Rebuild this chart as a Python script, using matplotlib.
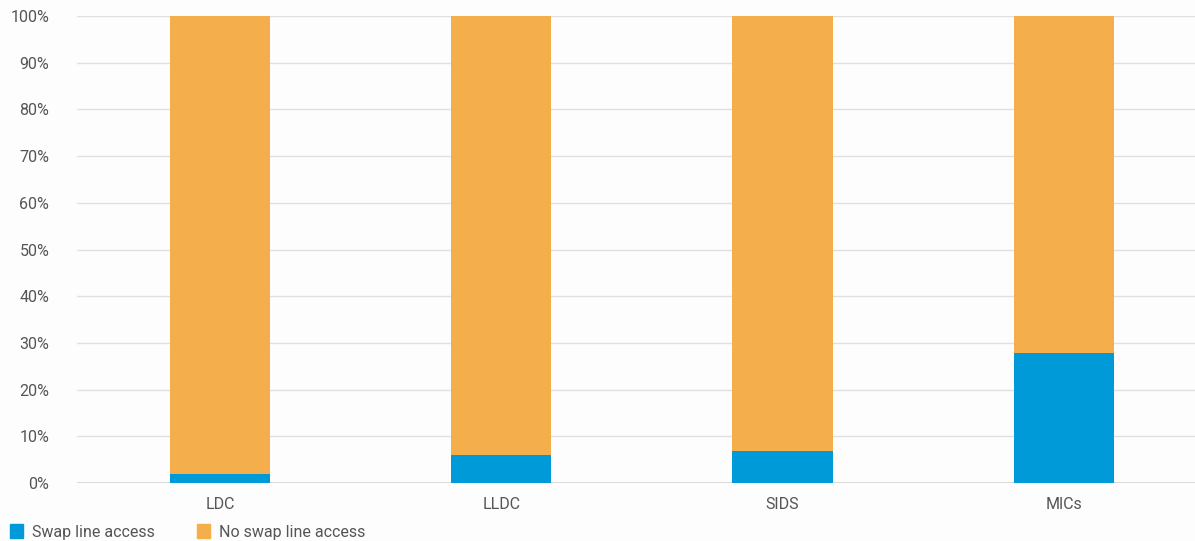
import matplotlib
matplotlib.use("Agg")
import matplotlib.pyplot as plt
from matplotlib.patches import Rectangle

categories = ["LDC", "LLDC", "SIDS", "MICs"]
swap_access = [2.0, 6.1, 6.9, 27.9]
no_swap_access = [100 - v for v in swap_access]
series_names = ["Swap line access", "No swap line access"]
colors = ["#009ad8", "#f5ae4c"]
yticks = list(range(0, 101, 10))

plt.rcParams['font.family'] = ['Roboto', 'DejaVu Sans']
W, H = 1195, 541
fig = plt.figure(figsize=(W / 100, H / 100), dpi=100, facecolor="#fdfdfd")
ax = fig.add_axes([77 / W, (H - 483) / H, (W - 77) / W, (483 - 16) / H])
ax.set_facecolor("#fdfdfd")

x = list(range(len(categories)))
ax.bar(x, swap_access, width=0.356, color=colors[0], zorder=3, label=series_names[0])
ax.bar(x, no_swap_access, bottom=swap_access, width=0.356, color=colors[1], zorder=3, label=series_names[1])

ax.set_xlim(-0.508, 3.466)
ax.set_ylim(0, 100)
ax.set_yticks(yticks)
ax.set_yticklabels([f"{t}%" for t in yticks])
ax.set_xticks(x)
ax.set_xticklabels(categories)
ax.grid(axis="y", color="#e0e0e0", linewidth=1, zorder=0)
ax.set_axisbelow(True)
for s in ax.spines.values():
    s.set_visible(False)
ax.axhline(0, color="#d5d5d5", linewidth=1.2, zorder=2)
ax.tick_params(axis="y", length=0, labelsize=11.5, labelcolor="#555555", pad=20)
ax.tick_params(axis="x", length=0, labelsize=11.5, labelcolor="#555555", pad=10)
for lbl in ax.get_yticklabels():
    lbl.set_horizontalalignment("right")

# legend
legend_items = [(10, series_names[0], colors[0]), (197, series_names[1], colors[1])]
for lx, name, c in legend_items:
    fig.patches.append(Rectangle((lx / W, (H - 538) / H), 13 / W, 14 / H,
                                 transform=fig.transFigure, color=c, figure=fig))
    fig.text((lx + 22) / W, (H - 533) / H, name, fontsize=11.5, color="#555555",
             va="center", ha="left")

fig.savefig("out.png", dpi=100, facecolor=fig.get_facecolor())
